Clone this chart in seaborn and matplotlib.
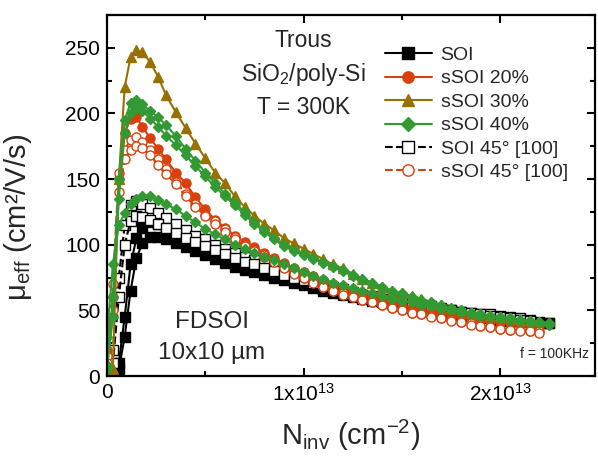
import matplotlib
matplotlib.use('Agg')
import matplotlib.pyplot as plt
import numpy as np
import seaborn as sns
from matplotlib.lines import Line2D
from matplotlib.ticker import MultipleLocator, FixedLocator

# inversion charge grid, in units of 1e13 cm^-2
n_inv = [0.00, 0.03, 0.06, 0.09, 0.12, 0.15, 0.18, 0.22, 0.26, 0.30,
         0.35, 0.40, 0.45, 0.50, 0.55, 0.60, 0.65, 0.70, 0.75, 0.80,
         0.85, 0.90, 0.95, 1.00, 1.05, 1.10, 1.15, 1.20, 1.25, 1.30,
         1.35, 1.40, 1.45, 1.50, 1.55, 1.60, 1.65, 1.70, 1.75, 1.80,
         1.85, 1.90, 1.95, 2.00, 2.05, 2.10, 2.15, 2.20, 2.25]

# effective mobility (cm2/V/s)
soi_a = [0, 0, 10, 45, 85, 105, 113, 117, 116, 113,
         108, 104, 100, 97, 94, 91, 88, 85, 82, 80,
         77, 75, 73, 71, 69, 67, 65, 63, 62, 60,
         59, 57, 56, 55, 53, 52, 51, 50, 49, 48,
         47, 46, 45, 44, 43, 42, 42, 41, 40]
soi_b = [0, 0, 5, 30, 65, 90, 101, 106, 106, 104,
         101, 98, 95, 92, 89, 86, 83, 81, 79, 77,
         75, 73, 71, 69, 67, 65, 63, 62, 60, 59,
         57, 56, 55, 53, 52, 51, 50, 49, 48, 47,
         46, 45, 44, 43, 42, 42, 41, 40, 40]
soi45_a = [0, 20, 75, 115, 130, 133, 131, 128, 124, 120,
           116, 111, 107, 104, 100, 97, 94, 91, 88, 85,
           82, 79, 77, 74, 72, 70, 68, 66, 64, 62,
           61, 59, 58, 56, 55, 54, 53, 52, 50, 49,
           48, 47, 47, 46, 45, 44, 43]
soi45_b = [0, 10, 60, 100, 118, 122, 121, 119, 116, 113,
           109, 105, 102, 99, 96, 93, 90, 87, 85, 82,
           80, 77, 75, 73, 71, 69, 67, 65, 63, 62,
           60, 59, 57, 56, 55, 54, 52, 51, 50, 49,
           48, 47, 46, 45, 44, 43, 42]
ssoi20 = [20, 60, 150, 185, 196, 197, 190, 181, 173, 165,
          155, 147, 136, 127, 119, 113, 107, 102, 98, 94,
          90, 86, 82, 79, 76, 73, 70, 67, 65, 62,
          60, 58, 56, 54, 52, 51, 49, 48, 46, 45,
          44, 43, 42, 41, 40, 39, 38, 37]
ssoi45_a = [15, 70, 155, 172, 180, 182, 178, 172, 165, 158,
            148, 139, 131, 123, 118, 112, 106, 100, 96, 92,
            88, 83, 79, 75, 72, 68, 65, 63, 60, 58,
            56, 54, 52, 50, 48, 47, 46, 44, 43, 41,
            40, 38, 37, 36, 35, 35, 34, 34]
ssoi45_b = [10, 50, 140, 165, 172, 175, 174, 168, 161, 154,
            146, 137, 129, 122, 116, 110, 104, 99, 95, 91,
            87, 82, 78, 75, 71, 68, 65, 62, 60, 58,
            56, 54, 52, 50, 48, 47, 45, 44, 42, 41,
            39, 38, 37, 36, 35, 34, 34, 33]
ssoi30 = [2, 5, 150, 220, 243, 248, 247, 239, 228, 214,
          201, 189, 177, 166, 155, 147, 137, 129, 122, 116,
          111, 105, 101, 97, 93, 89, 85, 82, 78, 74,
          71, 68, 65, 63, 61, 59, 56, 54, 52, 50,
          48, 47, 46, 45, 44, 43, 42]
ssoi40_a = [8, 60, 150, 195, 208, 210, 207, 202, 197, 191,
            183, 173, 164, 155, 147, 139, 132, 125, 117, 111,
            105, 100, 96, 93, 90, 87, 84, 81, 77, 74,
            71, 68, 65, 63, 60, 58, 56, 54, 52, 50,
            48, 47, 46, 45, 44, 43, 42, 41, 40]
ssoi40_b = [5, 45, 135, 185, 200, 204, 202, 196, 190, 183,
            176, 168, 160, 152, 144, 137, 130, 123, 116, 110,
            104, 99, 95, 92, 89, 86, 83, 80, 76, 73,
            70, 67, 64, 62, 60, 57, 55, 53, 51, 49,
            48, 46, 45, 44, 43, 42, 41, 40, 39]
ssoi40_c = [30, 85, 115, 124, 131, 135, 137, 137, 134, 131,
            127, 122, 117, 112, 108, 104, 100, 97, 94, 91,
            88, 85, 82, 79, 76, 74, 71, 69, 67, 65,
            63, 61, 59, 57, 56, 54, 53, 51, 50, 49,
            48, 47, 46, 45, 44, 43, 42, 41, 40]

BLACK = '#000000'
RED = '#D8400C'
GOLD = '#977100'
GREEN = '#339933'

# label, color, marker, open marker, linestyle, curves  (drawing order)
series = [
    ('SOI', BLACK, 's', False, '-', [soi_a, soi_b]),
    ('SOI 45° [100]', BLACK, 's', True, '--', [soi45_a, soi45_b]),
    ('sSOI 20%', RED, 'o', False, '-', [ssoi20]),
    ('sSOI 45° [100]', RED, 'o', True, '--', [ssoi45_a, ssoi45_b]),
    ('sSOI 30%', GOLD, '^', False, '-', [ssoi30]),
    ('sSOI 40%', GREEN, 'D', False, '-', [ssoi40_a, ssoi40_b, ssoi40_c]),
]
legend_order = ['SOI', 'sSOI 20%', 'sSOI 30%', 'sSOI 40%', 'SOI 45° [100]', 'sSOI 45° [100]']

sns.set_style('ticks')
plt.rcParams['font.family'] = ['Liberation Sans', 'DejaVu Sans']
plt.rcParams['mathtext.fontset'] = 'custom'
plt.rcParams['mathtext.rm'] = 'Liberation Sans'
plt.rcParams['mathtext.it'] = 'Liberation Sans:italic'
plt.rcParams['mathtext.default'] = 'regular'

fig = plt.figure(figsize=(5.98, 4.67), dpi=100)
ax = fig.add_axes([107 / 598, 1 - 376 / 467, 488 / 598, 361 / 467])

n = np.array(n_inv) * 1e13
handles = {}
for label, color, marker, hollow, ls, curves in series:
    style = dict(color=color, marker=marker, linestyle=ls, linewidth=1.5,
                 markersize=6.5 if marker != 'D' else 5.5,
                 markeredgecolor=color, markeredgewidth=1.0,
                 markerfacecolor='white' if hollow else color)
    for mu in curves:
        sns.lineplot(x=n[:len(mu)], y=mu, ax=ax, sort=False, estimator=None,
                     legend=False, **style)
    handles[label] = Line2D([], [], **style)

ax.set_xlim(0, 2.483e13)
ax.set_ylim(0, 275)
ax.xaxis.set_major_locator(FixedLocator([0, 1e13, 2e13]))
ax.xaxis.set_minor_locator(MultipleLocator(0.5e13))
ax.set_xticklabels(['0', '1x10$^{13}$', '2x10$^{13}$'])
ax.yaxis.set_major_locator(MultipleLocator(50))
ax.yaxis.set_minor_locator(MultipleLocator(25))
ax.tick_params(which='both', direction='in', top=True, right=True, width=1.5,
               labelsize=15, color='black', labelcolor='black')
ax.tick_params(which='major', length=6, pad=5)
ax.tick_params(which='minor', length=3.5)
for sp in ax.spines.values():
    sp.set_linewidth(1.6)
    sp.set_color('black')

ax.set_xlabel('N$_{inv}$ (cm$^{-2}$)', fontsize=21, labelpad=9)
ax.set_ylabel('μ$_{eff}$ (cm²/V/s)', fontsize=21, labelpad=4)
ax.yaxis.set_label_coords(-0.15, 0.44)

ax.text(0.402, 0.928, 'Trous', transform=ax.transAxes, ha='center', va='center', fontsize=16.5)
ax.text(0.402, 0.834, 'SiO$_2$/poly-Si', transform=ax.transAxes, ha='center', va='center', fontsize=16.5)
ax.text(0.402, 0.745, 'T = 300K', transform=ax.transAxes, ha='center', va='center', fontsize=16.5)
ax.text(0.215, 0.150, 'FDSOI', transform=ax.transAxes, ha='center', va='center', fontsize=17.5)
ax.text(0.215, 0.064, '10x10 µm', transform=ax.transAxes, ha='center', va='center', fontsize=17.5)
ax.text(0.918, 0.061, 'f = 100KHz', transform=ax.transAxes, ha='center', va='center', fontsize=10)

ax.legend([handles[k] for k in legend_order], legend_order, loc='upper left',
          bbox_to_anchor=(0.55, 0.94), borderpad=0, frameon=False, fontsize=14,
          handlelength=2.4, handletextpad=0.45, labelspacing=0.3, markerscale=1.25)

fig.savefig('out.png', dpi=100)
